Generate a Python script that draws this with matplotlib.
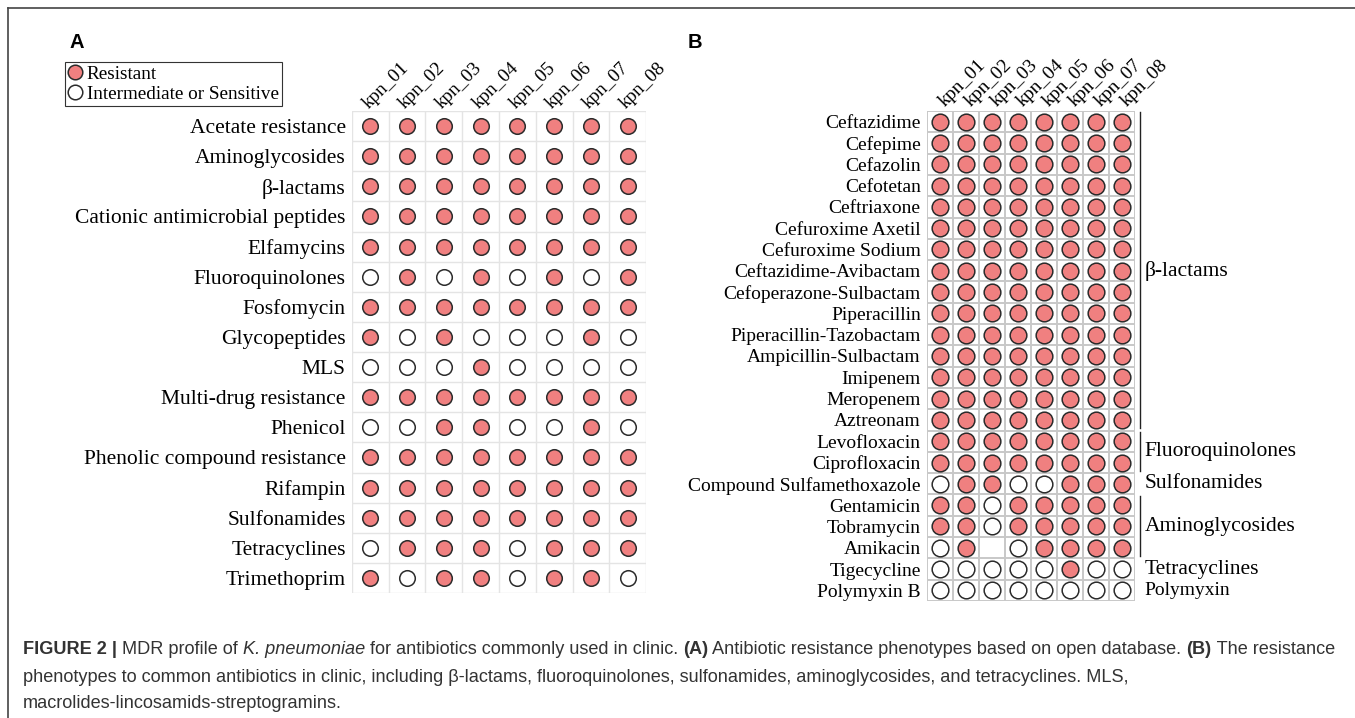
"""
MDR profile of K. pneumoniae - dot matrix of resistance phenotypes (panels A and B)
"""

import numpy as np
import matplotlib

matplotlib.use("Agg")
import matplotlib.pyplot as plt
from matplotlib.lines import Line2D
from matplotlib import font_manager

W, H = 1355, 718

strains = ["kpn_01", "kpn_02", "kpn_03", "kpn_04", "kpn_05", "kpn_06", "kpn_07", "kpn_08"]

# Panel A: 1 = resistant, 0 = intermediate or sensitive
classes_a = [
    "Acetate resistance", "Aminoglycosides", "β-lactams", "Cationic antimicrobial peptides",
    "Elfamycins", "Fluoroquinolones", "Fosfomycin", "Glycopeptides", "MLS",
    "Multi-drug resistance", "Phenicol", "Phenolic compound resistance", "Rifampin",
    "Sulfonamides", "Tetracyclines", "Trimethoprim",
]
pheno_a = [
    [1, 1, 1, 1, 1, 1, 1, 1],
    [1, 1, 1, 1, 1, 1, 1, 1],
    [1, 1, 1, 1, 1, 1, 1, 1],
    [1, 1, 1, 1, 1, 1, 1, 1],
    [1, 1, 1, 1, 1, 1, 1, 1],
    [0, 1, 0, 1, 0, 1, 0, 1],
    [1, 1, 1, 1, 1, 1, 1, 1],
    [1, 0, 1, 0, 0, 0, 1, 0],
    [0, 0, 0, 1, 0, 0, 0, 0],
    [1, 1, 1, 1, 1, 1, 1, 1],
    [0, 0, 1, 1, 0, 0, 1, 0],
    [1, 1, 1, 1, 1, 1, 1, 1],
    [1, 1, 1, 1, 1, 1, 1, 1],
    [1, 1, 1, 1, 1, 1, 1, 1],
    [0, 1, 1, 1, 0, 1, 1, 1],
    [1, 0, 1, 1, 0, 1, 1, 0],
]

# Panel B: clinical antibiotics, None = not tested
drugs_b = [
    "Ceftazidime", "Cefepime", "Cefazolin", "Cefotetan", "Ceftriaxone", "Cefuroxime Axetil",
    "Cefuroxime Sodium", "Ceftazidime-Avibactam", "Cefoperazone-Sulbactam", "Piperacillin",
    "Piperacillin-Tazobactam", "Ampicillin-Sulbactam", "Imipenem", "Meropenem", "Aztreonam",
    "Levofloxacin", "Ciprofloxacin", "Compound Sulfamethoxazole", "Gentamicin", "Tobramycin",
    "Amikacin", "Tigecycline", "Polymyxin B",
]
pheno_b = [[1] * 8 for _ in range(17)] + [
    [0, 1, 1, 0, 0, 1, 1, 1],
    [1, 1, 0, 1, 1, 1, 1, 1],
    [1, 1, 0, 1, 1, 1, 1, 1],
    [0, 1, None, 0, 1, 1, 1, 1],
    [0, 0, 0, 0, 0, 1, 0, 0],
    [0, 0, 0, 0, 0, 0, 0, 0],
]

# drug groups of panel B: (label, first row, last row, draw bracket)
group_names = ["β-lactams", "Fluoroquinolones", "Sulfonamides", "Aminoglycosides", "Tetracyclines", "Polymyxin"]
group_first = [0, 15, 17, 18, 21, 22]
group_last = [14, 16, 17, 20, 21, 22]
group_bracket = [True, True, False, True, False, False]

RED = "#F08080"
EDGE = "#2b2b2b"
SERIF = ["Liberation Serif", "DejaVu Serif"]


def px_box(left, top, right, bottom):
    return [left / W, 1 - bottom / H, (right - left) / W, (bottom - top) / H]


def dot_matrix(ax, rows, values, grid_color, grid_lw, msize, label_size, label_pad):
    n = len(rows)
    vals = np.array([[np.nan if v is None else v for v in r] for r in values], dtype=float)
    yy, xx = np.mgrid[0:n, 0:len(strains)]
    for flag, face in [(1, RED), (0, "white")]:
        m = vals == flag
        ax.plot(xx[m], yy[m], "o", ms=msize, mfc=face, mec=EDGE, mew=1.1, zorder=3)
    for i in range(n + 1):
        ax.axhline(i - 0.5, color=grid_color, lw=grid_lw, zorder=1)
    for j in range(len(strains) + 1):
        ax.axvline(j - 0.5, color=grid_color, lw=grid_lw, zorder=1)
    ax.set_xlim(-0.5, len(strains) - 0.5)
    ax.set_ylim(n - 0.5, -0.5)
    ax.set_xticks([])
    ax.set_yticks(range(n))
    ax.set_yticklabels(rows, family=SERIF, fontsize=label_size)
    ax.tick_params(axis="y", length=0, pad=label_pad)
    for s in ax.spines.values():
        s.set_visible(False)


fig = plt.figure(figsize=(W / 100, H / 100), dpi=100)

# outer frame (top and left edges only are visible)
fig.add_artist(Line2D([8 / W, 8 / W], [0, 1 - 8 / H], color="#444444", lw=1.2))
fig.add_artist(Line2D([8 / W, 1], [1 - 8 / H, 1 - 8 / H], color="#444444", lw=1.2))

# ---- Panel A
ax_a = fig.add_axes(px_box(352, 111, 646, 593))
dot_matrix(ax_a, classes_a, pheno_a, "#e4e4e4", 1.0, 11.2, 15.5, 4.5)
for j, s in enumerate(strains):
    ax_a.text(j - 0.05, -0.55, s, rotation=45, rotation_mode="anchor", ha="left", va="baseline",
              family=SERIF, fontsize=13.8, clip_on=False)

handles = [
    Line2D([], [], ls="none", marker="o", ms=10.5, mfc=RED, mec=EDGE, mew=1.1),
    Line2D([], [], ls="none", marker="o", ms=10.5, mfc="white", mec=EDGE, mew=1.1),
]
leg = fig.legend(handles, ["Resistant", "Intermediate or Sensitive"], loc="upper left",
                 bbox_to_anchor=(65 / W, 1 - 62 / H), frameon=True, fancybox=False,
                 edgecolor="#333333", framealpha=1, borderpad=0.18, borderaxespad=0,
                 handlelength=0.7, handletextpad=0.25, labelspacing=0.12,
                 prop={"family": SERIF, "size": 13.8})
leg.get_frame().set_linewidth(0.8)

fig.text(70 / W, 1 - 43 / H, "A", fontsize=14.5, fontweight="bold", family="Liberation Sans", va="center")
fig.text(688 / W, 1 - 43 / H, "B", fontsize=14.5, fontweight="bold", family="Liberation Sans", va="center")

# ---- Panel B
ax_b = fig.add_axes(px_box(927, 111, 1135, 601))
dot_matrix(ax_b, drugs_b, pheno_b, "#c8c8c8", 1.4, 12.0, 14, 4.5)
for j, s in enumerate(strains):
    ax_b.text(j + 0.2, -0.7, s, rotation=45, rotation_mode="anchor", ha="left", va="baseline",
              family=SERIF, fontsize=14, clip_on=False)

for name, a, b, br in zip(group_names, group_first, group_last, group_bracket):
    if br:
        ax_b.plot([7.69, 7.69], [a - 0.45, b + 0.4], color="#222222", lw=1.0, clip_on=False)
    size = 14 if name == "Polymyxin" else 15.5
    ax_b.text(7.88, (a + b) / 2, name, ha="left", va="center", family=SERIF, fontsize=size, clip_on=False)

# ---- Caption, drawn run by run so bold and italic parts sit inline
available = {f.name for f in font_manager.fontManager.ttflist}
cap_family = "Liberation Sans Narrow" if "Liberation Sans Narrow" in available else "Liberation Sans"
caption = [
    [("FIGURE 2 |", "bold", "normal"), (" MDR profile of ", "normal", "normal"),
     ("K. pneumoniae", "normal", "italic"), (" for antibiotics commonly used in clinic. ", "normal", "normal"),
     ("(A)", "bold", "normal"), (" Antibiotic resistance phenotypes based on open database. ", "normal", "normal"),
     ("(B)", "bold", "normal"), (" The resistance", "normal", "normal")],
    [("phenotypes to common antibiotics in clinic, including β-lactams, fluoroquinolones, sulfonamides, "
      "aminoglycosides, and tetracyclines. MLS,", "normal", "normal")],
    [("macrolides-lincosamids-streptogramins.", "normal", "normal")],
]
renderer = fig.canvas.get_renderer()


def run_width(s, weight, style, size):
    # width including leading / trailing spaces: measure between two guard glyphs
    kw = dict(family=[cap_family, "DejaVu Sans"], fontweight=weight, fontstyle=style, fontsize=size)
    t1 = fig.text(0, 0, "x" + s + "x", **kw)
    t2 = fig.text(0, 0, "xx", **kw)
    w = t1.get_window_extent(renderer).width - t2.get_window_extent(renderer).width
    t1.remove()
    t2.remove()
    return w


ref_size = 10.0
natural = sum(run_width(s, wt, st, ref_size) for s, wt, st in caption[0])
cap_size = ref_size * (1338 - 23) / natural

for line, ypx in zip(caption, [650, 677, 703]):
    x = 23.0
    for s, wt, st in line:
        fig.text(x / W, 1 - ypx / H, s, family=[cap_family, "DejaVu Sans"], fontweight=wt,
                 fontstyle=st, fontsize=cap_size, va="center", ha="left", color="#333333")
        x += run_width(s, wt, st, cap_size)

fig.savefig("out.png", dpi=100)
